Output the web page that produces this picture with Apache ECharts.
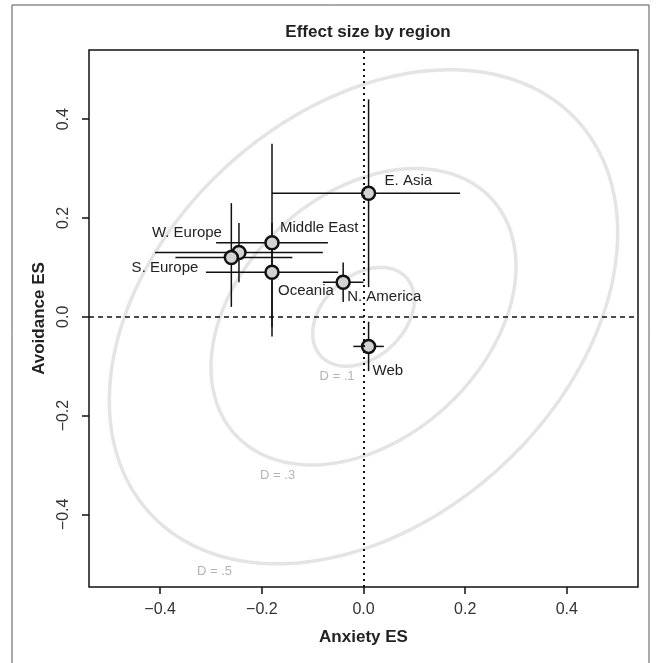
<!DOCTYPE html>
<html><head><meta charset="utf-8">
<script src="https://cdn.jsdelivr.net/npm/echarts@6/dist/echarts.min.js"></script>
<style>html,body{margin:0;padding:0;background:#fff}#c{width:657px;height:663px}</style>
</head><body><div id="c"></div>
<script>
// ---- data ----
const regions      = ['E. Asia', 'Middle East', 'W. Europe', 'S. Europe', 'Oceania', 'N. America', 'Web'];
const anxietyES    = [0.01, -0.18, -0.245, -0.26, -0.18, -0.04, 0.01];
const avoidanceES  = [0.25, 0.15, 0.13, 0.12, 0.09, 0.07, -0.06];
const anxietyLo    = [-0.18, -0.29, -0.41, -0.37, -0.31, -0.08, -0.02];
const anxietyHi    = [0.19, -0.07, -0.08, -0.14, -0.05, 0.00, 0.04];
const avoidanceLo  = [0.06, -0.04, 0.07, 0.02, -0.02, 0.03, -0.11];
const avoidanceHi  = [0.44, 0.35, 0.19, 0.23, 0.19, 0.11, -0.01];
const contourLevels = [0.1, 0.3, 0.5];
const contourCorr   = 0.34;
const contourLabels = ['D = .1', 'D = .3', 'D = .5'];
const contourLabelX = [-0.052, -0.169, -0.293];
const contourLabelY = [-0.12, -0.322, -0.515];
const xTicks = [-0.4, -0.2, 0, 0.2, 0.4];
const yTicks = [-0.4, -0.2, 0, 0.2, 0.4];

// ---- label placement (style, not data) ----
const labelPlace = {
  'E. Asia':     {align: 'left',  offset: [16, -12]},
  'Middle East': {align: 'left',  offset: [8, -15]},
  'W. Europe':   {align: 'right', offset: [-17, -20]},
  'S. Europe':   {align: 'right', offset: [-33, 10]},
  'Oceania':     {align: 'left',  offset: [6, 19]},
  'N. America':  {align: 'left',  offset: [4, 15]},
  'Web':         {align: 'left',  offset: [4, 24]}
};

const FONT = '"Liberation Sans", Arial, Helvetica, sans-serif';
const fmt = v => (Math.abs(v) < 1e-9 ? '0.0' : (v < 0 ? '\u2212' : '') + Math.abs(v).toFixed(1));

// Mahalanobis distance contours (unit variances, correlation contourCorr)
function contour(D) {
  const pts = [];
  const s = Math.sqrt(1 - contourCorr * contourCorr);
  for (let k = 0; k <= 240; k++) {
    const t = 2 * Math.PI * k / 240;
    pts.push([D * Math.cos(t), D * (contourCorr * Math.cos(t) + s * Math.sin(t))]);
  }
  return pts;
}

const chart = echarts.init(document.getElementById('c'), null, {renderer: 'canvas'});

const series = [];
contourLevels.forEach((D, i) => {
  series.push({
    type: 'line', data: contour(D), showSymbol: false, silent: true, z: 1,
    lineStyle: {color: '#e4e4e4', width: 3.5}, animation: false
  });
});
series.push({
  type: 'scatter', silent: true, z: 2, symbolSize: 0,
  data: contourLabels.map((t, i) => ({value: [contourLabelX[i], contourLabelY[i]], name: t})),
  label: {show: true, position: 'inside', formatter: '{b}', color: '#a0a0a0', fontSize: 13, fontFamily: FONT},
  markLine: {
    silent: true, symbol: 'none', animation: false,
    label: {show: false},
    data: [
      {xAxis: 0, lineStyle: {color: '#111', width: 2, type: [2, 4]}},
      {yAxis: 0, lineStyle: {color: '#111', width: 1.6, type: [5, 4]}}
    ]
  }
});
series.push({
  type: 'custom', z: 3, silent: true,
  data: regions.map((r, i) => [anxietyES[i], avoidanceES[i], anxietyLo[i], anxietyHi[i], avoidanceLo[i], avoidanceHi[i]]),
  encode: {x: [0, 2, 3], y: [1, 4, 5]},
  renderItem: (params, api) => {
    const x = api.value(0), y = api.value(1);
    const a = api.coord([api.value(2), y]), b = api.coord([api.value(3), y]);
    const c = api.coord([x, api.value(4)]), d = api.coord([x, api.value(5)]);
    const st = {stroke: '#111', lineWidth: 1.5};
    return {type: 'group', children: [
      {type: 'line', shape: {x1: a[0], y1: a[1], x2: b[0], y2: b[1]}, style: st},
      {type: 'line', shape: {x1: c[0], y1: c[1], x2: d[0], y2: d[1]}, style: st}
    ]};
  }
});
series.push({
  type: 'scatter', z: 4, symbol: 'circle', symbolSize: 13,
  itemStyle: {color: '#d3d3d3', borderColor: '#111', borderWidth: 2.5, opacity: 1},
  data: regions.map((r, i) => ({
    name: r, value: [anxietyES[i], avoidanceES[i]],
    label: {show: true, position: 'inside', formatter: '{b}', align: labelPlace[r].align,
            verticalAlign: 'middle', offset: labelPlace[r].offset,
            color: '#222', fontSize: 15, fontFamily: FONT}
  }))
});

chart.setOption({
  animation: false,
  backgroundColor: '#fff',
  title: {
    text: 'Effect size by region', left: 363, top: 19, textAlign: 'center',
    textStyle: {fontFamily: FONT, fontSize: 17, fontWeight: 'bold', color: '#222'}
  },
  graphic: [{
    type: 'rect', shape: {x: 12, y: 5, width: 637, height: 680}, silent: true, z: -1,
    style: {fill: 'none', stroke: '#555', lineWidth: 1}
  }],
  grid: {left: 89, right: 19, top: 50, bottom: 76, show: true, borderColor: '#111', borderWidth: 1.5, backgroundColor: 'transparent'},
  xAxis: {
    type: 'value', min: -0.54, max: 0.54,
    name: 'Anxiety ES', nameLocation: 'middle', nameGap: 42,
    nameTextStyle: {fontFamily: FONT, fontSize: 17, fontWeight: 'bold', color: '#222'},
    axisLine: {show: false, onZero: false}, splitLine: {show: false},
    axisTick: {show: true, length: 7, customValues: xTicks, lineStyle: {color: '#111', width: 1.5}},
    axisLabel: {customValues: xTicks, formatter: fmt, margin: 15, fontFamily: FONT, fontSize: 16, color: '#333'}
  },
  yAxis: {
    type: 'value', min: -0.547, max: 0.54,
    name: 'Avoidance ES', nameLocation: 'middle', nameGap: 36, nameRotate: 90,
    nameTextStyle: {fontFamily: FONT, fontSize: 17, fontWeight: 'bold', color: '#222'},
    axisLine: {show: false, onZero: false}, splitLine: {show: false},
    axisTick: {show: true, length: 7, customValues: yTicks, lineStyle: {color: '#111', width: 1.5}},
    axisLabel: {customValues: yTicks, formatter: fmt, rotate: 90, margin: 17, fontFamily: FONT, fontSize: 16, color: '#333'}
  },
  series: series
});
</script>
</body></html>
